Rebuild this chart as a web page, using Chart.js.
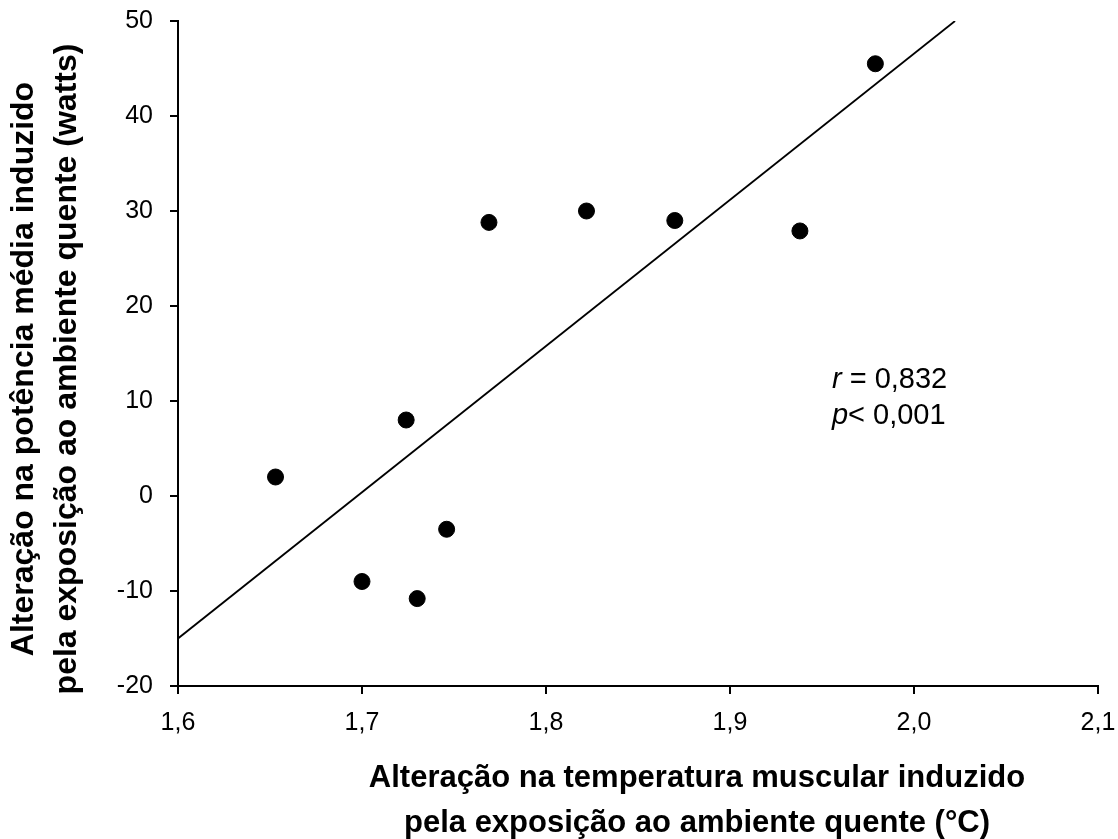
<!DOCTYPE html>
<html>
<head>
<meta charset="utf-8">
<script src="https://cdn.jsdelivr.net/npm/chart.js@4"></script>
<style>
  html, body { margin: 0; padding: 0; background: #fff; }
  #wrap { width: 1118px; height: 839px; }
</style>
</head>
<body>
<div id="wrap"><canvas id="graph" width="1118" height="839"></canvas></div>
<script>
// temperatura muscular (°C) vs potência média (watts)
const tempMuscular = [1.653, 1.700, 1.724, 1.730, 1.746, 1.769, 1.822, 1.870, 1.938, 1.979];
const potencia     = [2.0, -9.0, 8.0, -10.8, -3.5, 28.8, 30.0, 29.0, 27.9, 45.5];

// reta de regressão (extremos)
const retaX = [1.6, 2.0223];
const retaY = [-15.0, 50.0];

const xTicks = [1.6, 1.7, 1.8, 1.9, 2.0, 2.1];
const yTicks = [-20, -10, 0, 10, 20, 30, 40, 50];

const tituloX = ["Alteração na temperatura muscular induzido", "pela exposição ao ambiente quente (°C)"];
const tituloY = ["Alteração na potência média induzido", "pela exposição ao ambiente quente (watts)"];
const stats = [["r", " = 0,832"], ["p", "< 0,001"]];

const FONT = "'Liberation Sans', Arial, sans-serif";

function fmt(v) {
    return v.toFixed(1).replace('.', ',');
}

const textos = {
    id: 'textos',
    afterDraw(chart) {
        const ctx = chart.ctx;
        const area = chart.chartArea;
        ctx.save();
        ctx.fillStyle = '#000';
        ctx.textAlign = 'center';
        ctx.textBaseline = 'middle';
        // titulo eixo x
        ctx.font = 'bold 31px ' + FONT;
        const cx = area.left + (area.right - area.left) / 2 + 59;
        ctx.fillText(tituloX[0], cx, 778);
        ctx.fillText(tituloX[1], cx, 823);
        // titulo eixo y
        ctx.font = 'bold 32px ' + FONT;
        ctx.translate(45, 369);
        ctx.rotate(-Math.PI / 2);
        ctx.fillText(tituloY[0], 0, -21);
        ctx.fillText(tituloY[1], 0, 22);
        ctx.restore();

        // r e p
        ctx.save();
        ctx.fillStyle = '#000';
        ctx.textBaseline = 'middle';
        const sx = chart.scales.x.getPixelForValue(1.9554);
        let sy = chart.scales.y.getPixelForValue(12.2);
        stats.forEach(s => {
            ctx.font = 'italic 29px ' + FONT;
            ctx.fillText(s[0], sx, sy);
            const w = ctx.measureText(s[0]).width;
            ctx.font = '29px ' + FONT;
            ctx.fillText(s[1], sx + w, sy);
            sy += 36;
        });
        ctx.restore();
    }
};

const axisCommon = {
    border: { color: '#000', width: 2 },
    grid: { drawOnChartArea: false, drawTicks: true, tickLength: 8, color: '#000', lineWidth: 2 },
};

new Chart(document.getElementById('graph').getContext('2d'), {
    type: 'scatter',
    data: {
        datasets: [{
            data: tempMuscular.map((x, i) => ({ x: x, y: potencia[i] })),
            backgroundColor: '#000',
            borderColor: '#000',
            pointRadius: 8,
            pointHoverRadius: 8
        }, {
            type: 'line',
            data: retaX.map((x, i) => ({ x: x, y: retaY[i] })),
            borderColor: '#000',
            borderWidth: 1.8,
            pointRadius: 0,
            fill: false
        }]
    },
    options: {
        responsive: false,
        animation: false,
        layout: { padding: { left: 0, right: 20, top: 21, bottom: 0 } },
        plugins: { legend: { display: false }, tooltip: { enabled: false } },
        scales: {
            x: {
                type: 'linear',
                min: 1.6, max: 2.1,
                ...axisCommon,
                afterBuildTicks: s => { s.ticks = xTicks.map(v => ({ value: v })); },
                afterFit: s => { s.height = 153; s.paddingLeft = 0; s.paddingRight = 0; },
                ticks: {
                    color: '#000',
                    font: { family: FONT, size: 25 },
                    padding: 14,
                    maxRotation: 0,
                    callback: v => fmt(v)
                }
            },
            y: {
                type: 'linear',
                min: -20, max: 50,
                ...axisCommon,
                afterBuildTicks: s => { s.ticks = yTicks.map(v => ({ value: v })); },
                afterFit: s => { s.width = 178; s.paddingTop = 0; s.paddingBottom = 0; },
                ticks: {
                    color: '#000',
                    font: { family: FONT, size: 25 },
                    padding: 17
                }
            }
        }
    },
    plugins: [textos]
});
</script>
</body>
</html>
